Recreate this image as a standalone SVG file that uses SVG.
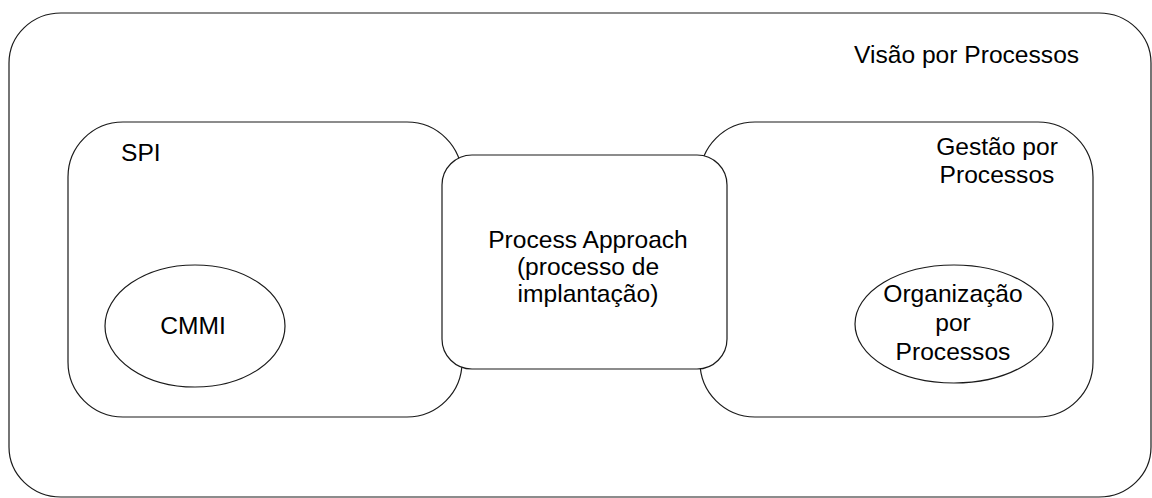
<svg xmlns="http://www.w3.org/2000/svg" width="1152" height="498" viewBox="0 0 1152 498">
  <style>
    .shape { fill: none; stroke: #1a1a1a; stroke-width: 1.2; }
    .solid { fill: #ffffff; stroke: #1a1a1a; stroke-width: 1.2; }
    .label { font-family: "Liberation Sans", Arial, sans-serif; font-size: 24.6px; fill: #000000; }
    .mid { text-anchor: middle; }
  </style>
  <rect width="1152" height="498" fill="#ffffff"/>

  <!-- outer region -->
  <g id="visao-por-processos">
    <rect class="shape" x="9" y="13" width="1142" height="484" rx="52" ry="50"/>
    <text class="label" x="854" y="63">Visão por Processos</text>
  </g>

  <!-- left region -->
  <g id="spi">
    <rect class="shape" x="68" y="122" width="394" height="295" rx="55" ry="55"/>
    <text class="label" x="121" y="161">SPI</text>
  </g>

  <!-- right region -->
  <g id="gestao-por-processos">
    <rect class="shape" x="700" y="122" width="393" height="295" rx="55" ry="55"/>
    <text class="label mid" x="997" y="155">Gestão por</text>
    <text class="label mid" x="997" y="183">Processos</text>
  </g>

  <g id="cmmi">
    <ellipse class="shape" cx="195" cy="326" rx="90" ry="61"/>
    <text class="label mid" x="193" y="334">CMMI</text>
  </g>

  <g id="organizacao-por-processos">
    <ellipse class="shape" cx="954" cy="324" rx="99" ry="59"/>
    <text class="label mid" x="953" y="302">Organização</text>
    <text class="label mid" x="953" y="331">por</text>
    <text class="label mid" x="953" y="360">Processos</text>
  </g>

  <!-- central box overlapping both regions -->
  <g id="process-approach">
    <rect class="solid" x="442" y="155" width="285" height="214" rx="30" ry="30"/>
    <text class="label mid" x="588" y="248">Process Approach</text>
    <text class="label mid" x="588" y="275">(processo de</text>
    <text class="label mid" x="588" y="302">implantação)</text>
  </g>

  <g id="connectors"/>
</svg>
